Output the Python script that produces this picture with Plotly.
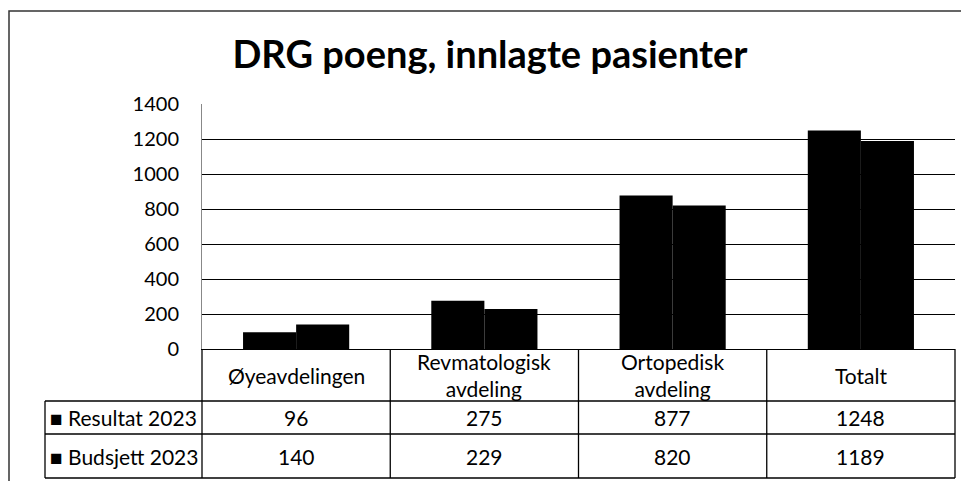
import plotly.graph_objects as go

categories = ["Øyeavdelingen", "Revmatologisk avdeling", "Ortopedisk avdeling", "Totalt"]
header_labels = ["Øyeavdelingen", "Revmatologisk<br>avdeling", "Ortopedisk<br>avdeling", "Totalt"]
series_names = ["Resultat 2023", "Budsjett 2023"]
resultat = [96, 275, 877, 1248]
budsjett = [140, 229, 820, 1189]
y_ticks = [0, 200, 400, 600, 800, 1000, 1200, 1400]

OFF = 8  # page body margin
W, H = 969 - OFF, 481 - OFF
L, R, T, B = 202 - OFF, 955 - OFF, 104 - OFF, 349 - OFF  # plot area pixel bounds in figure
FONT = "Lato"

def px(x):  # x in screenshot pixels -> paper
    return (x - OFF - L) / (R - L)

def py(y):  # y in screenshot pixels -> paper
    return (B - (y - OFF)) / (B - T)

fig = go.Figure()
for name, vals in zip(series_names, [resultat, budsjett]):
    fig.add_trace(go.Bar(x=categories, y=vals, name=name,
                         marker=dict(color="black", line=dict(width=0))))

shapes = []
line = dict(color="black", width=1.3)
# outer chart border
shapes.append(dict(type="rect", xref="paper", yref="paper",
                   x0=px(OFF + 1), x1=px(990), y0=py(11), y1=py(500),
                   line=dict(color="#333", width=1.5), fillcolor="rgba(0,0,0,0)"))
n = len(categories)
band = 1.0 / n
# horizontal lines
for yy in [401, 434, 478]:
    shapes.append(dict(type="line", xref="paper", yref="paper", x0=px(45), x1=1, y0=py(yy), y1=py(yy), line=line))
# vertical lines
for i in range(n + 1):
    shapes.append(dict(type="line", xref="paper", yref="paper", x0=i * band, x1=i * band,
                       y0=py(349), y1=py(478), line=line))
shapes.append(dict(type="line", xref="paper", yref="paper", x0=px(45), x1=px(45),
                   y0=py(401), y1=py(478), line=line))

annotations = []
tf = dict(family=FONT, size=21, color="black")
for cat, lab in zip(categories, header_labels):
    annotations.append(dict(x=cat, xref="x", y=py(375), yref="paper", text=lab,
                            showarrow=False, font=tf, xanchor="center", yanchor="middle"))
for name, vals, yc in zip(series_names, [resultat, budsjett], [417.5, 456]):
    annotations.append(dict(x=px(48), xref="paper", y=py(yc), yref="paper", text="■ " + name,
                            showarrow=False, font=tf, xanchor="left", yanchor="middle"))
    for cat, v in zip(categories, vals):
        annotations.append(dict(x=cat, xref="x", y=py(yc), yref="paper", text=str(v),
                                showarrow=False, font=tf, xanchor="center", yanchor="middle"))

fig.update_layout(
    width=W, height=H,
    margin=dict(l=L, r=W - R, t=T, b=H - B),
    paper_bgcolor="white", plot_bgcolor="white",
    barmode="group", bargap=0.436, bargroupgap=0,
    showlegend=False,
    title=dict(text="<b>DRG poeng, innlagte pasienter</b>", x=(490 - OFF) / W, xref="container",
               y=1 - (55 - OFF) / H, yref="container", xanchor="center", yanchor="middle",
               font=dict(family=FONT, size=38, color="black")),
    xaxis=dict(showticklabels=False, ticks="", showgrid=False, showline=True,
               linecolor="black", linewidth=1.3, zeroline=False),
    yaxis=dict(range=[0, 1400], tickvals=y_ticks, ticks="", showgrid=True,
               gridcolor="black", gridwidth=1, showline=True, linecolor="#888",
               linewidth=1, zeroline=False, ticklabelstandoff=18,
               tickfont=dict(family=FONT, size=20, color="black")),
    shapes=shapes, annotations=annotations,
    font=dict(family=FONT),
)

fig.write_html("out.html")
